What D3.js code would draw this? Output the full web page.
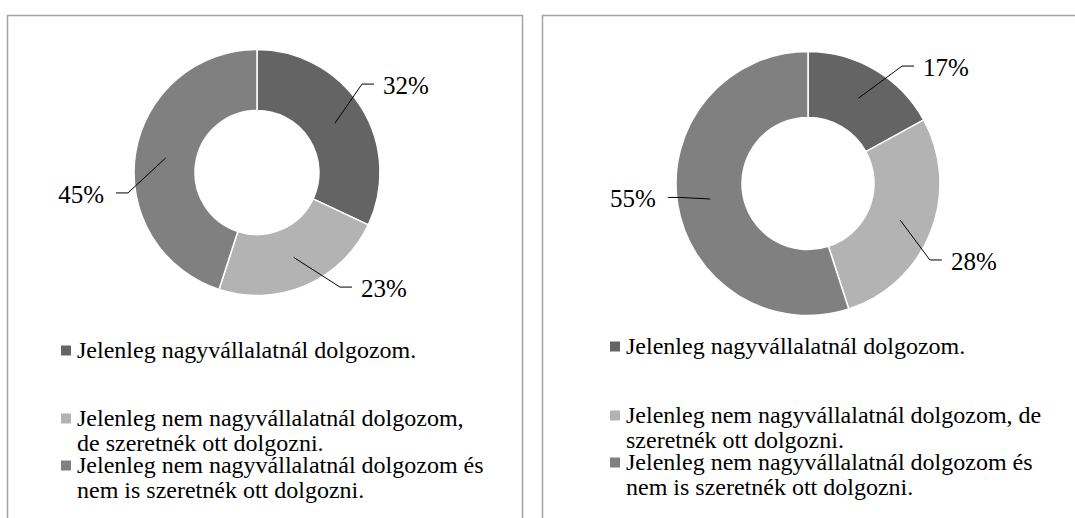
<!DOCTYPE html>
<html>
<head>
<meta charset="utf-8">
<script src="https://cdn.jsdelivr.net/npm/d3@7"></script>
<style>
  html, body { margin: 0; padding: 0; background: #fff; overflow: hidden; }
  svg { display: block; }
</style>
</head>
<body>
<div id="chart"></div>
<script>
// data
const categories = [
  "Jelenleg nagyvállalatnál dolgozom.",
  "Jelenleg nem nagyvállalatnál dolgozom, de szeretnék ott dolgozni.",
  "Jelenleg nem nagyvállalatnál dolgozom és nem is szeretnék ott dolgozni."
];
const leftValues = [32, 23, 45];
const rightValues = [17, 28, 55];

const colors = ["#646464", "#b3b3b3", "#808080"];
const serif = "'Liberation Serif', 'Times New Roman', Tinos, 'DejaVu Serif', serif";

const width = 1075;
const height = 518;

// layout per panel (label nudges in degrees, radius as share of outer radius)
const panels = [
  {
    values: leftValues, x: 7.5, y: 15.5, w: 515,
    cx: 257, cy: 172.5, outer: 123, inner: 62,
    labelNudge: [-7.7, -12.5, -18], labelRadius: [1.116, 1.15, 1.062],
    legendX: 61, legendY: [358, 426, 473], wrapWidth: 411
  },
  {
    values: rightValues, x: 542.5, y: 15.5, w: 600,
    cx: 808, cy: 183.5, outer: 132, inner: 66,
    labelNudge: [8.1, 10.5, 2.8], labelRadius: [1.14, 1.09, 0.976],
    legendX: 610, legendY: [354, 423, 470], wrapWidth: 440
  }
];

const svg = d3.select("#chart")
  .append("svg")
  .attr("width", width)
  .attr("height", height)
  .style("font-family", serif);

const pie = d3.pie().sort(null).value((d) => d);

const wrap = (textSel, str, maxWidth, x, lineHeight) => {
  const words = str.split(" ");
  let line = [];
  let tspan = textSel.append("tspan").attr("x", x).attr("dy", 0);
  words.forEach((w) => {
    line.push(w);
    tspan.text(line.join(" "));
    if (tspan.node().getComputedTextLength() > maxWidth && line.length > 1) {
      line.pop();
      tspan.text(line.join(" "));
      line = [w];
      tspan = textSel.append("tspan").attr("x", x).attr("dy", lineHeight).text(w);
    }
  });
};

panels.forEach((p) => {
  svg.append("rect")
    .attr("x", p.x)
    .attr("y", p.y)
    .attr("width", p.w)
    .attr("height", 600)
    .attr("fill", "#fff")
    .attr("stroke", "#a3a3a3")
    .attr("stroke-width", 1.5);

  const g = svg.append("g").attr("transform", `translate(${p.cx},${p.cy})`);
  const arc = d3.arc().innerRadius(p.inner).outerRadius(p.outer);
  const slices = pie(p.values);

  g.selectAll("path.slice")
    .data(slices)
    .join("path")
    .attr("class", "slice")
    .attr("d", arc)
    .attr("fill", (d, i) => colors[i])
    .attr("stroke", "#fff")
    .attr("stroke-width", 1.5);

  slices.forEach((d, i) => {
    const mid = (d.startAngle + d.endAngle) / 2;
    const start = arc.centroid(d);
    const a = mid + (p.labelNudge[i] * Math.PI) / 180;
    const r = p.outer * p.labelRadius[i];
    const ex = Math.sin(a) * r;
    const ey = -Math.cos(a) * r;
    const right = Math.sin(a) >= 0;
    const hx = ex + (right ? 12 : -12);

    g.append("polyline")
      .attr("points", [start, [ex, ey], [hx, ey]].map((q) => q.join(",")).join(" "))
      .attr("fill", "none")
      .attr("stroke", "#000")
      .attr("stroke-width", 1);

    g.append("text")
      .attr("x", hx + (right ? 9 : -12))
      .attr("y", ey)
      .attr("dy", "0.4em")
      .attr("text-anchor", right ? "start" : "end")
      .style("font-family", serif)
      .style("font-size", "25px")
      .attr("fill", "#000")
      .text(p.values[i] + "%");
  });

  // legend
  categories.forEach((c, i) => {
    svg.append("rect")
      .attr("x", p.legendX)
      .attr("y", p.legendY[i] - 12.5)
      .attr("width", 10)
      .attr("height", 10)
      .attr("fill", colors[i]);

    const t = svg.append("text")
      .attr("x", p.legendX + 16)
      .attr("y", p.legendY[i])
      .attr("fill", "#000")
      .style("font-family", serif)
      .style("font-size", "24px");
    wrap(t, c, p.wrapWidth, p.legendX + 16, 24.5);
  });
});
</script>
</body>
</html>
